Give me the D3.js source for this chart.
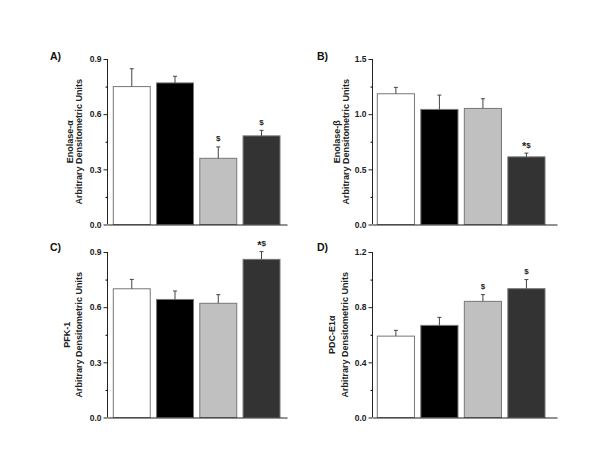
<!DOCTYPE html>
<html><head><meta charset="utf-8">
<script src="https://cdn.jsdelivr.net/npm/d3@7"></script>
<style>
body{margin:0;background:#fff;}
text{font-family:"Liberation Sans",Arial,sans-serif;font-weight:bold;}
</style></head>
<body><svg id="c" width="600" height="464"></svg>
<script>
const groups = ["Group 1","Group 2","Group 3","Group 4"];
const groupColors = ["#ffffff","#000000","#c0c0c0","#333333"];
const panelLabels = ["A)","B)","C)","D)"];
const proteinNames = ["Enolase-α","Enolase-β","PFK-1","PDC-E1α"];
const yAxisTitle = "Arbitrary Densitometric Units";

const meanA = [0.750, 0.770, 0.360, 0.482];
const semA  = [0.097, 0.036, 0.062, 0.030];
const markA = ["", "", "$", "$"];
const ticksA = [0.0, 0.3, 0.6, 0.9];

const meanB = [1.185, 1.043, 1.052, 0.613];
const semB  = [0.058, 0.130, 0.088, 0.034];
const markB = ["", "", "", "*$"];
const ticksB = [0.0, 0.5, 1.0, 1.5];

const meanC = [0.700, 0.642, 0.621, 0.860];
const semC  = [0.051, 0.046, 0.047, 0.042];
const markC = ["", "", "", "*$"];
const ticksC = [0.0, 0.3, 0.6, 0.9];

const meanD = [0.590, 0.668, 0.842, 0.934];
const semD  = [0.042, 0.058, 0.049, 0.066];
const markD = ["", "", "$", "$"];
const ticksD = [0.0, 0.4, 0.8, 1.2];

const panelData = [
  {mean: meanA, sem: semA, mark: markA, ticks: ticksA},
  {mean: meanB, sem: semB, mark: markB, ticks: ticksB},
  {mean: meanC, sem: semC, mark: markC, ticks: ticksC},
  {mean: meanD, sem: semD, mark: markD, ticks: ticksD}
];

// layout
const layout = [
  {ax: 107.5, top: 59, bot: 224.5, x0: 113.3, x1: 280, xEnd: 287, lab: [50, 60], t1: 72.5, t2: 82},
  {ax: 372.5, top: 59, bot: 224.5, x0: 377.3, x1: 545, xEnd: 557, lab: [317, 60], t1: 340, t2: 348.5},
  {ax: 107.5, top: 252, bot: 417.5, x0: 113.3, x1: 280, xEnd: 287, lab: [50, 251], t1: 69.5, t2: 82},
  {ax: 372.5, top: 252, bot: 417.5, x0: 377.3, x1: 545, xEnd: 557, lab: [317, 251], t1: 335, t2: 347.5}
];

const svg = d3.select("#c");

panelData.forEach((pd, i) => {
  const L = layout[i];
  const g = svg.append("g");
  const tks = pd.ticks;
  const yMax = tks[tks.length - 1];
  const y = d3.scaleLinear().domain([0, yMax]).range([L.bot, L.top]);
  const x = d3.scaleBand().domain(groups).range([L.x0, L.x1]).paddingInner(0.146).paddingOuter(0);

  // bars
  g.selectAll("rect.bar").data(groups).join("rect")
    .attr("x", d => x(d)).attr("width", x.bandwidth())
    .attr("y", (d, j) => y(pd.mean[j]))
    .attr("height", (d, j) => L.bot - y(pd.mean[j]))
    .attr("fill", (d, j) => groupColors[j])
    .attr("stroke", "#777").attr("stroke-width", 1);

  // error bars
  const eg = g.selectAll("g.err").data(groups).join("g");
  eg.append("line")
    .attr("x1", d => x(d) + x.bandwidth() / 2).attr("x2", d => x(d) + x.bandwidth() / 2)
    .attr("y1", (d, j) => y(pd.mean[j])).attr("y2", (d, j) => y(pd.mean[j] + pd.sem[j]))
    .attr("stroke", "#444").attr("stroke-width", 1);
  eg.append("line")
    .attr("x1", d => x(d) + x.bandwidth() / 2 - 2).attr("x2", d => x(d) + x.bandwidth() / 2 + 2)
    .attr("y1", (d, j) => y(pd.mean[j] + pd.sem[j])).attr("y2", (d, j) => y(pd.mean[j] + pd.sem[j]))
    .attr("stroke", "#444").attr("stroke-width", 1);

  // significance marks
  const mt = g.selectAll("text.mark").data(groups).join("text")
    .attr("x", d => x(d) + x.bandwidth() / 2)
    .attr("y", (d, j) => y(pd.mean[j] + pd.sem[j]) - 5.5)
    .attr("text-anchor", "middle").attr("font-size", 8).attr("fill", "#222");
  mt.each(function(d, j) {
    const s = pd.mark[j];
    const t = d3.select(this);
    if (s.startsWith("*")) {
      t.append("tspan").attr("font-size", 11).attr("dy", 2.5).text("*");
      t.append("tspan").attr("dy", -2.5).text(s.slice(1));
    } else {
      t.text(s);
    }
  });

  // y axis
  const minor = [];
  for (let k = 0; k < tks.length - 1; k++) minor.push((tks[k] + tks[k + 1]) / 2);
  const yAxisMinor = d3.axisLeft(y).tickValues(minor).tickSize(2).tickFormat("");
  const yAxis = d3.axisLeft(y).tickValues(tks).tickSize(4).tickPadding(2).tickFormat(d3.format(".1f"));
  const ya = g.append("g").attr("transform", `translate(${L.ax},0)`).call(yAxis);
  g.append("g").attr("transform", `translate(${L.ax},0)`).call(yAxisMinor).select(".domain").remove();
  ya.select(".domain").attr("d", `M0,${L.top}V${L.bot}`).attr("stroke", "#222");
  ya.selectAll(".tick line").attr("stroke", "#222");
  ya.selectAll(".tick text").attr("font-size", 8.5).attr("fill", "#222")
    .attr("font-family", "Liberation Sans, Arial, sans-serif").attr("font-weight", "bold");

  // x axis line
  const xs = d3.scaleLinear().domain([0, 1]).range([L.ax, L.xEnd]);
  const xa = g.append("g").attr("transform", `translate(0,${L.bot})`).call(d3.axisBottom(xs).tickValues([]).tickSizeOuter(0));
  xa.select(".domain").attr("stroke", "#222");

  // panel label
  g.append("text").attr("x", L.lab[0]).attr("y", L.lab[1])
    .attr("font-size", 10.5).attr("fill", "#111").text(panelLabels[i]);

  // titles
  const cy = (L.top + L.bot) / 2;
  g.append("text").attr("transform", `translate(${L.t1},${cy}) rotate(-90)`)
    .attr("text-anchor", "middle").attr("font-size", 9).attr("fill", "#222").text(proteinNames[i]);
  g.append("text").attr("transform", `translate(${L.t2},${cy}) rotate(-90)`)
    .attr("text-anchor", "middle").attr("font-size", 9).attr("fill", "#222").text(yAxisTitle);
});
</script></body></html>
